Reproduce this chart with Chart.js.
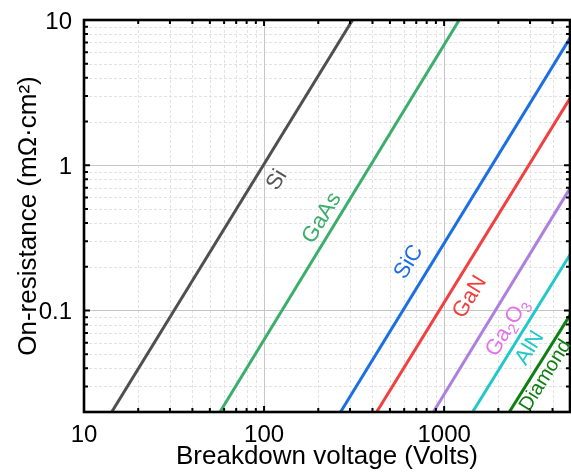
<!DOCTYPE html>
<html>
<head>
<meta charset="utf-8">
<script src="https://cdn.jsdelivr.net/npm/chart.js@4.4.1/dist/chart.umd.min.js"></script>
<style>
  html, body { margin: 0; padding: 0; background: #fff; }
</style>
</head>
<body>
<canvas id="chart" width="571" height="474"></canvas>
<script>
// materials and the two ends of each line (breakdown voltage in V, on-resistance in mOhm.cm2)
const materials = ['Si', 'GaAs', 'SiC', 'GaN', 'Ga2O3', 'AlN', 'Diamond'];
const voltStart = [14.25, 56.9, 266, 422, 871, 1439, 2301];
const resStart = [0.02, 0.02, 0.02, 0.02, 0.02, 0.02, 0.02];
const voltEnd = [310, 1213, 5000, 5000, 5000, 5000, 5000];
const resEnd = [10, 10, 7.5, 2.89, 0.693, 0.242, 0.093];

// where each name is written (in data units)
const labelVolts = [117.9, 209.7, 637.6, 1390, 2246, 2992, 3660];
const labelRes = [0.79, 0.433, 0.2154, 0.1237, 0.0762, 0.0551, 0.0356];

const xTickLabels = [10, 100, 1000];
const yTickLabels = [0.1, 1, 10];

const lineColors = ['#4f4f4f', '#3cae6b', '#1c6fe3', '#f0403f', '#ad80e0', '#22c8c8', '#0f7f12'];
const labelColors = ['#555555', '#3cae6b', '#1c6fe3', '#f0403f', '#e474ea', '#22c8c8', '#0f7f12'];

const FONT = "'Liberation Sans', Arial, sans-serif";

// 2..9 times each power of ten, strictly inside the axis range
const minorValues = (lo, hi) => {
  const out = [];
  for (let e = Math.floor(Math.log10(lo)) - 1; e <= Math.ceil(Math.log10(hi)); e++) {
    for (let m = 2; m <= 9; m++) {
      const v = m * Math.pow(10, e);
      if (v > lo * 1.0001 && v < hi * 0.9999) out.push(v);
    }
  }
  return out;
};

// grid lines under the data
const gridPlugin = {
  id: 'gridPlugin',
  beforeDatasetsDraw(chart) {
    const { ctx, chartArea: a, scales: { x, y } } = chart;
    ctx.save();
    ctx.lineWidth = 1;
    ctx.strokeStyle = '#e2e2e2';
    ctx.setLineDash([3, 2]);
    minorValues(x.min, x.max).forEach(v => {
      const px = Math.round(x.getPixelForValue(v)) + 0.5;
      ctx.beginPath(); ctx.moveTo(px, a.top); ctx.lineTo(px, a.bottom); ctx.stroke();
    });
    minorValues(y.min, y.max).forEach(v => {
      const py = Math.round(y.getPixelForValue(v)) + 0.5;
      ctx.beginPath(); ctx.moveTo(a.left, py); ctx.lineTo(a.right, py); ctx.stroke();
    });
    ctx.setLineDash([]);
    ctx.strokeStyle = '#c6c6c6';
    xTickLabels.forEach(v => {
      const px = Math.round(x.getPixelForValue(v)) + 0.5;
      ctx.beginPath(); ctx.moveTo(px, a.top); ctx.lineTo(px, a.bottom); ctx.stroke();
    });
    yTickLabels.forEach(v => {
      const py = Math.round(y.getPixelForValue(v)) + 0.5;
      ctx.beginPath(); ctx.moveTo(a.left, py); ctx.lineTo(a.right, py); ctx.stroke();
    });
    ctx.restore();
  }
};

// frame, inward ticks, tick labels and the material names
const framePlugin = {
  id: 'framePlugin',
  afterDatasetsDraw(chart) {
    const { ctx, chartArea: a, scales: { x, y } } = chart;
    ctx.save();
    ctx.strokeStyle = '#000';
    ctx.lineWidth = 2;
    const xt = xTickLabels.map(v => [v, 6]).concat(minorValues(x.min, x.max).map(v => [v, 4]));
    const yt = yTickLabels.map(v => [v, 6]).concat(minorValues(y.min, y.max).map(v => [v, 4]));
    xt.forEach(([v, len]) => {
      const px = x.getPixelForValue(v);
      ctx.beginPath();
      ctx.moveTo(px, a.bottom); ctx.lineTo(px, a.bottom - len);
      ctx.moveTo(px, a.top); ctx.lineTo(px, a.top + len);
      ctx.stroke();
    });
    yt.forEach(([v, len]) => {
      const py = y.getPixelForValue(v);
      ctx.beginPath();
      ctx.moveTo(a.left, py); ctx.lineTo(a.left + len, py);
      ctx.moveTo(a.right, py); ctx.lineTo(a.right - len, py);
      ctx.stroke();
    });
    ctx.lineWidth = 2.6;
    ctx.strokeRect(a.left, a.top, a.right - a.left, a.bottom - a.top);

    // tick labels
    ctx.fillStyle = '#000';
    ctx.font = '24px ' + FONT;
    ctx.textBaseline = 'alphabetic';
    ctx.textAlign = 'center';
    xTickLabels.forEach(v => ctx.fillText(String(v), x.getPixelForValue(v), a.bottom + 30));
    ctx.textAlign = 'right';
    yTickLabels.forEach(v => ctx.fillText(String(v), a.left - 12, y.getPixelForValue(v) + 8.5));

    // names along the lines
    materials.forEach((name, i) => {
      const x1 = x.getPixelForValue(voltStart[i]), y1 = y.getPixelForValue(resStart[i]);
      const x2 = x.getPixelForValue(voltEnd[i]), y2 = y.getPixelForValue(resEnd[i]);
      const ang = Math.atan2(y2 - y1, x2 - x1);
      const size = name === 'Diamond' ? 20 : 22;
      const parts = name === 'Ga2O3'
        ? [['Ga', 0], ['2', 1], ['O', 0], ['3', 1]]
        : [[name, 0]];
      ctx.save();
      ctx.translate(x.getPixelForValue(labelVolts[i]), y.getPixelForValue(labelRes[i]));
      ctx.rotate(ang);
      ctx.fillStyle = labelColors[i];
      ctx.textBaseline = 'middle';
      ctx.textAlign = 'left';
      const widths = parts.map(p => {
        ctx.font = (p[1] ? size * 0.68 : size) + 'px ' + FONT;
        return ctx.measureText(p[0]).width;
      });
      let cx = -widths.reduce((s, w) => s + w, 0) / 2;
      parts.forEach((p, k) => {
        ctx.font = (p[1] ? size * 0.68 : size) + 'px ' + FONT;
        ctx.fillText(p[0], cx, p[1] ? size * 0.3 : 0);
        cx += widths[k];
      });
      ctx.restore();
    });
    ctx.restore();
  }
};

const datasets = materials.map((name, i) => ({
  label: name,
  data: [{ x: voltStart[i], y: resStart[i] }, { x: voltEnd[i], y: resEnd[i] }],
  borderColor: lineColors[i],
  borderWidth: 3,
  pointRadius: 0,
  fill: false,
  tension: 0
}));

new Chart(document.getElementById('chart'), {
  type: 'line',
  data: { datasets },
  options: {
    responsive: false,
    animation: false,
    devicePixelRatio: 1,
    layout: { padding: { top: 20, right: 1, left: 0, bottom: 0 } },
    plugins: { legend: { display: false }, tooltip: { enabled: false } },
    scales: {
      x: {
        type: 'logarithmic',
        min: 10,
        max: 5000,
        grid: { display: false, drawTicks: false },
        border: { display: false },
        afterFit: s => { s.height = 62; },
        ticks: { display: false },
        title: {
          display: true,
          text: 'Breakdown voltage (Volts)',
          color: '#000',
          font: { family: FONT, size: 26 },
          padding: { top: 0, bottom: 2 }
        }
      },
      y: {
        type: 'logarithmic',
        min: 0.02,
        max: 10,
        grid: { display: false, drawTicks: false },
        border: { display: false },
        afterFit: s => { s.width = 84; },
        ticks: { display: false },
        title: {
          display: true,
          text: 'On-resistance (mΩ·cm²)',
          color: '#000',
          font: { family: FONT, size: 26 },
          padding: { top: 13, bottom: 0 }
        }
      }
    }
  },
  plugins: [gridPlugin, framePlugin]
});
</script>
</body>
</html>
